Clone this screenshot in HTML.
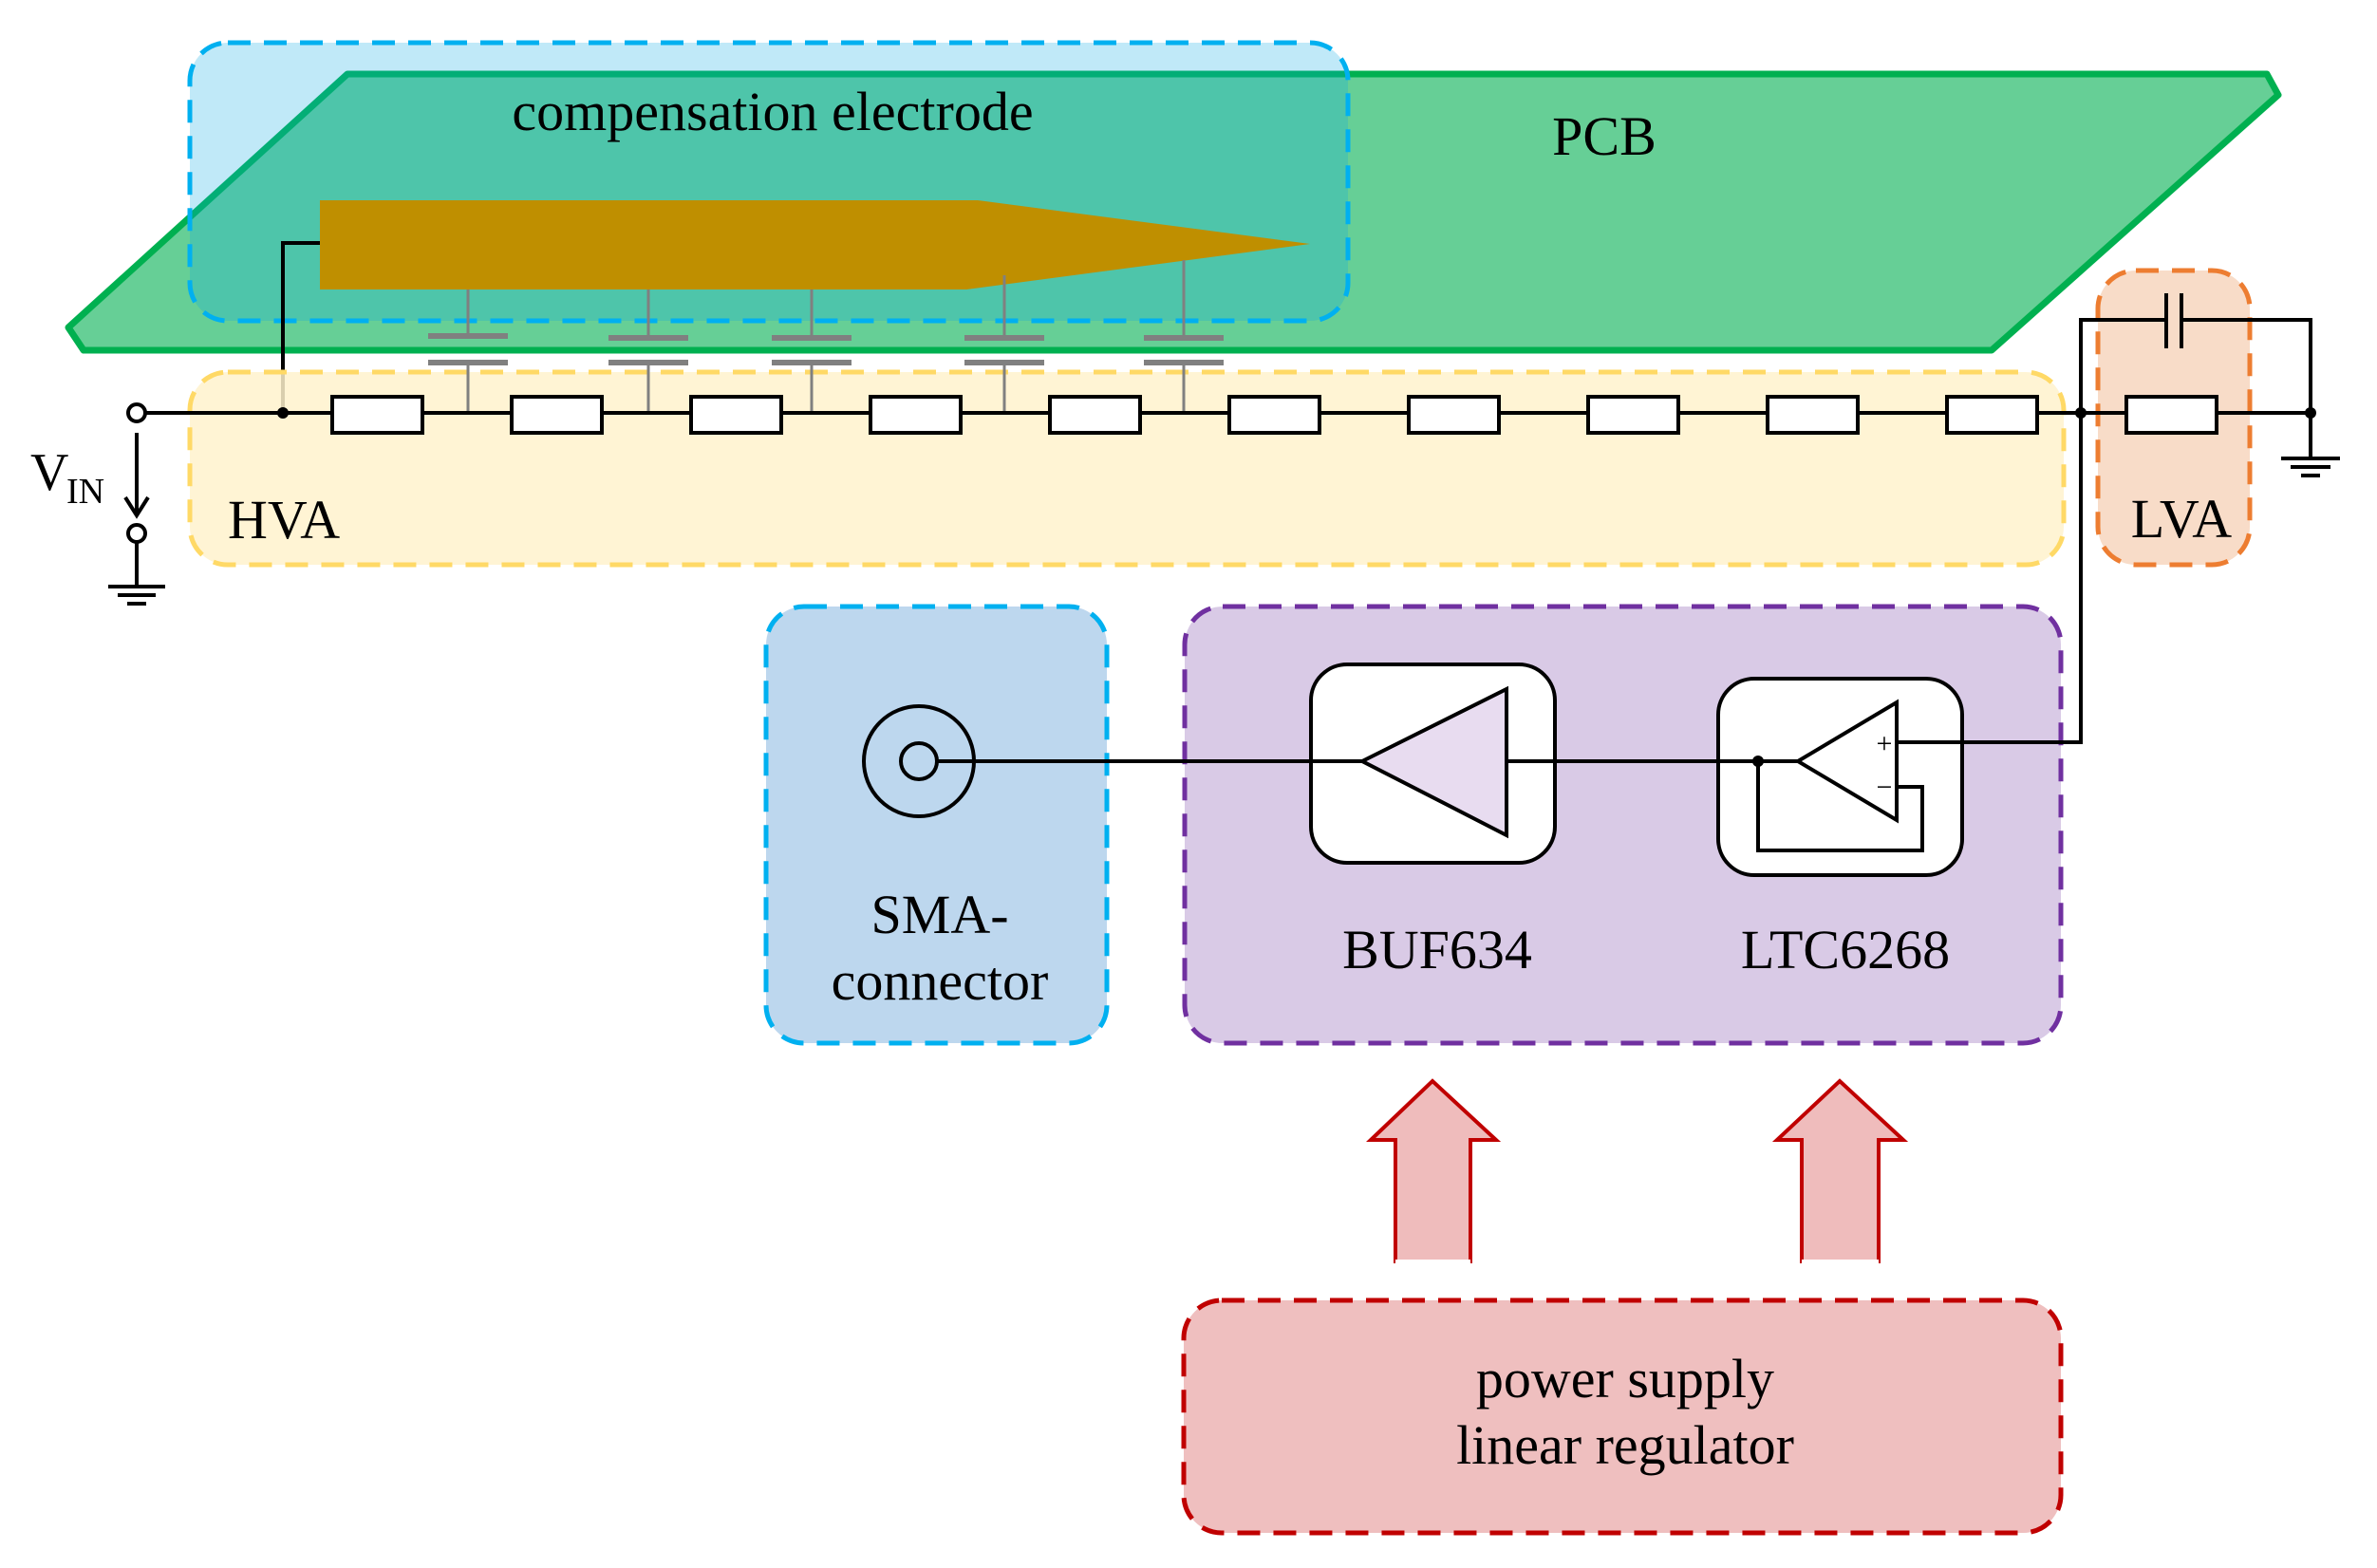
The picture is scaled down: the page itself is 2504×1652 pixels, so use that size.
<!DOCTYPE html>
<html><head><meta charset="utf-8"><style>html,body{margin:0;padding:0;background:#fff}svg{display:block}</style></head>
<body>
<svg width="2504" height="1652" viewBox="0 0 2504 1652" xmlns="http://www.w3.org/2000/svg" font-family="'Liberation Serif', serif">
<polygon points="366,78 2388,78 2400,100 2098,369 88,369 72,345" fill="#66cf96" stroke="#00b050" stroke-width="7" stroke-linejoin="round"/>
<rect x="200" y="45" width="1220" height="293" rx="40" fill="#0baae3" fill-opacity="0.26" stroke="#00b0f0" stroke-width="5" stroke-dasharray="24 14"/>
<text x="814" y="137" font-size="58" text-anchor="middle">compensation electrode</text>
<text x="1690" y="163" font-size="58" text-anchor="middle">PCB</text>
<polygon points="337,211 1030,211 1380,257 1018,305 337,305" fill="#bf8f00"/>
<polyline points="337,256 298,256 298,435" fill="none" stroke="#000" stroke-width="4"/>
<rect x="200" y="392" width="1974" height="203" rx="40" fill="#fff2cc" fill-opacity="0.85" stroke="#ffd966" stroke-width="5" stroke-dasharray="24 14"/>
<rect x="2210" y="285" width="160" height="310" rx="40" fill="#f8dcc8" stroke="#ed7d31" stroke-width="5" stroke-dasharray="24 14"/>
<text x="240" y="567" font-size="58">HVA</text>
<text x="2298" y="566" font-size="58" text-anchor="middle">LVA</text>
<g stroke="#808080">
<g stroke-width="3">
<line x1="493" y1="305" x2="493" y2="354"/><line x1="493" y1="382" x2="493" y2="435"/>
<line x1="683" y1="305" x2="683" y2="354"/><line x1="683" y1="382" x2="683" y2="435"/>
<line x1="855" y1="305" x2="855" y2="354"/><line x1="855" y1="382" x2="855" y2="435"/>
<line x1="1058" y1="290" x2="1058" y2="354"/><line x1="1058" y1="382" x2="1058" y2="435"/>
<line x1="1247" y1="274" x2="1247" y2="354"/><line x1="1247" y1="382" x2="1247" y2="435"/>
</g>
<g stroke-width="6">
<line x1="451" y1="354" x2="535" y2="354"/><line x1="451" y1="382" x2="535" y2="382"/>
<line x1="641" y1="356" x2="725" y2="356"/><line x1="641" y1="382" x2="725" y2="382"/>
<line x1="813" y1="356" x2="897" y2="356"/><line x1="813" y1="382" x2="897" y2="382"/>
<line x1="1016" y1="356" x2="1100" y2="356"/><line x1="1016" y1="382" x2="1100" y2="382"/>
<line x1="1205" y1="356" x2="1289" y2="356"/><line x1="1205" y1="382" x2="1289" y2="382"/>
</g></g>
<line x1="150" y1="435" x2="2434" y2="435" stroke="#000" stroke-width="4"/>
<g fill="#fff" stroke="#000" stroke-width="4">
<rect x="350" y="418" width="95" height="38"/><rect x="539" y="418" width="95" height="38"/>
<rect x="728" y="418" width="95" height="38"/><rect x="917" y="418" width="95" height="38"/>
<rect x="1106" y="418" width="95" height="38"/><rect x="1295" y="418" width="95" height="38"/>
<rect x="1484" y="418" width="95" height="38"/><rect x="1673" y="418" width="95" height="38"/>
<rect x="1862" y="418" width="95" height="38"/><rect x="2051" y="418" width="95" height="38"/>
<rect x="2240" y="418" width="95" height="38"/>
</g>
<circle cx="298" cy="435" r="6"/><circle cx="2192" cy="435" r="6"/><circle cx="2434" cy="435" r="6"/>
<circle cx="144" cy="435" r="9" fill="#fff" stroke="#000" stroke-width="4"/>
<circle cx="144" cy="562" r="9" fill="#fff" stroke="#000" stroke-width="4"/>
<g stroke="#000" stroke-width="4" fill="none">
<line x1="144" y1="456" x2="144" y2="541"/><polyline points="132,524 144,543 156,524"/>
<line x1="144" y1="571" x2="144" y2="618"/>
<line x1="114" y1="618" x2="174" y2="618"/><line x1="124" y1="627" x2="164" y2="627"/><line x1="134" y1="636" x2="154" y2="636"/>
<polyline points="2192,435 2192,337 2282,337"/><polyline points="2298,337 2434,337 2434,483"/>
<line x1="2282" y1="309" x2="2282" y2="367"/><line x1="2298" y1="309" x2="2298" y2="367"/>
<line x1="2403" y1="483" x2="2465" y2="483"/><line x1="2413" y1="492" x2="2455" y2="492"/><line x1="2424" y1="501" x2="2444" y2="501"/>
</g>
<text x="32" y="516" font-size="56">V</text><text x="70" y="530" font-size="38">IN</text>
<rect x="807" y="639" width="359" height="460" rx="40" fill="#bdd7ee" stroke="#00b0f0" stroke-width="5" stroke-dasharray="24 14"/>
<rect x="1248" y="639" width="923" height="460" rx="40" fill="#d9cae6" stroke="#7030a0" stroke-width="5" stroke-dasharray="24 14"/>
<ellipse cx="968" cy="802" rx="58" ry="58" fill="none" stroke="#000" stroke-width="4"/>
<circle cx="968" cy="802" r="19" fill="none" stroke="#000" stroke-width="4"/>
<rect x="1381" y="700" width="257" height="209" rx="38" fill="#fff" stroke="#000" stroke-width="4"/>
<rect x="1810" y="715" width="257" height="207" rx="38" fill="#fff" stroke="#000" stroke-width="4"/>
<polyline points="2192,435 2192,782 1998,782" fill="none" stroke="#000" stroke-width="4"/>
<line x1="987" y1="802" x2="1435" y2="802" stroke="#000" stroke-width="4"/>
<polygon points="1435,802 1587,726 1587,880" fill="#e8dcf0" stroke="#000" stroke-width="4"/>
<line x1="1587" y1="802" x2="1894" y2="802" stroke="#000" stroke-width="4"/>
<polygon points="1894,802 1998,740 1998,864" fill="#fff" stroke="#000" stroke-width="4"/>
<polyline points="1998,829 2025,829 2025,896 1852,896 1852,802" fill="none" stroke="#000" stroke-width="4"/>
<circle cx="1852" cy="802" r="6"/>
<text x="1985" y="793" font-size="30" text-anchor="middle">+</text>
<text x="1985" y="839" font-size="30" text-anchor="middle">−</text>
<text x="990" y="983" font-size="58" text-anchor="middle">SMA-</text>
<text x="990" y="1053" font-size="58" text-anchor="middle">connector</text>
<text x="1514" y="1020" font-size="58" text-anchor="middle">BUF634</text>
<text x="1944" y="1020" font-size="58" text-anchor="middle">LTC6268</text>
<polygon points="1509,1139 1576,1201 1549,1201 1549,1329 1470,1329 1470,1201 1444,1201" fill="#efbcbc" stroke="#c00000" stroke-width="4"/>
<polygon points="1938,1139 2005,1201 1979,1201 1979,1329 1898,1329 1898,1201 1872,1201" fill="#efbcbc" stroke="#c00000" stroke-width="4"/>
<rect x="1470" y="1327" width="79" height="6" fill="#fff"/><rect x="1898" y="1327" width="81" height="6" fill="#fff"/>
<rect x="1247" y="1370" width="924" height="245" rx="40" fill="#efbfbf" stroke="#c00000" stroke-width="5" stroke-dasharray="24 14"/>
<text x="1712" y="1472" font-size="58" text-anchor="middle">power supply</text>
<text x="1712" y="1542" font-size="58" text-anchor="middle">linear regulator</text>
</svg>
</body></html>
